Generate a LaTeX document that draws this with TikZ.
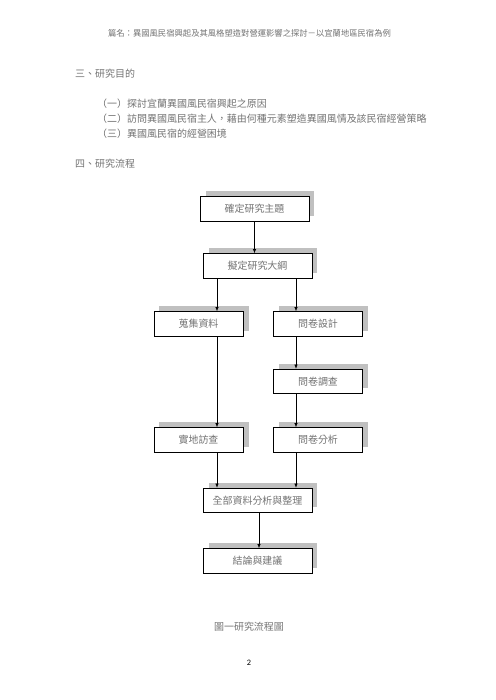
\documentclass[tikz,border=0pt]{standalone}
\usepackage{fontspec}
\setmainfont{Noto Sans CJK TC}
\newfontfamily\pagefont{Carlito}
\usetikzlibrary{arrows.meta, shadows, positioning}
\definecolor{boxshadow}{RGB}{192,192,192}
\definecolor{inkgray}{RGB}{115,115,115}
\tikzset{
	stepbox/.style={draw=black, line width=1pt, fill=white, text=inkgray,
		minimum height=29.5pt, inner sep=0pt, font=\fontsize{12}{14}\selectfont,
		drop shadow={shadow xshift=6.6pt, shadow yshift=6.6pt, fill=boxshadow, opacity=1}},
	widebox/.style={stepbox, minimum width=131pt},
	narrowbox/.style={stepbox, minimum width=107pt},
	flow/.style={-{Latex[length=5pt,width=4pt]}, line width=0.8pt},
	bodytext/.style={anchor=west, inner sep=0pt, text=inkgray, font=\fontsize{12}{14}\selectfont}
}

\begin{document}
\begin{tikzpicture}[x=1.202pt, y=-1.202pt]
	\useasboundingbox (0,0) rectangle (495,700);
	\node[text=inkgray, font=\fontsize{10}{12}\selectfont] (title) at (249.5,33.5) {篇名：異國風民宿興起及其風格塑造對營運影響之探討－以宜蘭地區民宿為例};
	\node[bodytext] (sec3) at (75,73.5) {三、研究目的};
	\node[bodytext] (aim1) at (97,103.5) {（一）探討宜蘭異國風民宿興起之原因};
	\node[bodytext] (aim2) at (97,118.5) {（二）訪問異國風民宿主人，藉由何種元素塑造異國風情及該民宿經營策略};
	\node[bodytext] (aim3) at (97,133.5) {（三）異國風民宿的經營困境};
	\node[bodytext] (sec4) at (75,163.5) {四、研究流程};

	\coordinate (colL) at (217,0);
	\coordinate (colM) at (259,0);
	\coordinate (colR) at (296,0);

	\node[widebox] (topic) at (254.5,209) {確定研究主題};
	\node[widebox] (outline) at (257.5,266) {擬定研究大綱};
	\node[narrowbox] (collect) at (198.5,324) {蒐集資料};
	\node[narrowbox] (design) at (318,324) {問卷設計};
	\node[narrowbox] (survey) at (318,381.5) {問卷調查};
	\node[narrowbox] (visit) at (198.5,440) {實地訪查};
	\node[narrowbox] (analyse) at (318,440) {問卷分析};
	\node[widebox] (sort) at (257.5,500.5) {全部資料分析與整理};
	\node[widebox] (result) at (257.5,561) {結論與建議};

	\draw[flow] (topic.south) -- (topic.south |- outline.north);
	\draw[flow] (outline.south -| colL) -- (collect.north -| colL);
	\draw[flow] (outline.south -| colR) -- (design.north -| colR);
	\draw[flow] (design.south -| colR) -- (survey.north -| colR);
	\draw[flow] (collect.south -| colL) -- (visit.north -| colL);
	\draw[flow] (survey.south -| colR) -- (analyse.north -| colR);
	\draw[flow] (visit.south -| colL) -- (sort.north -| colL);
	\draw[flow] (analyse.south -| colR) -- (sort.north -| colR);
	\draw[flow] (sort.south -| colM) -- (result.north -| colM);

	\node[text=inkgray, font=\fontsize{12}{14}\selectfont] (caption) at (249,627) {圖一研究流程圖};
	\node[font=\pagefont\fontsize{10}{12}\selectfont] (pageno) at (249,663) {2};
\end{tikzpicture}
\end{document}
